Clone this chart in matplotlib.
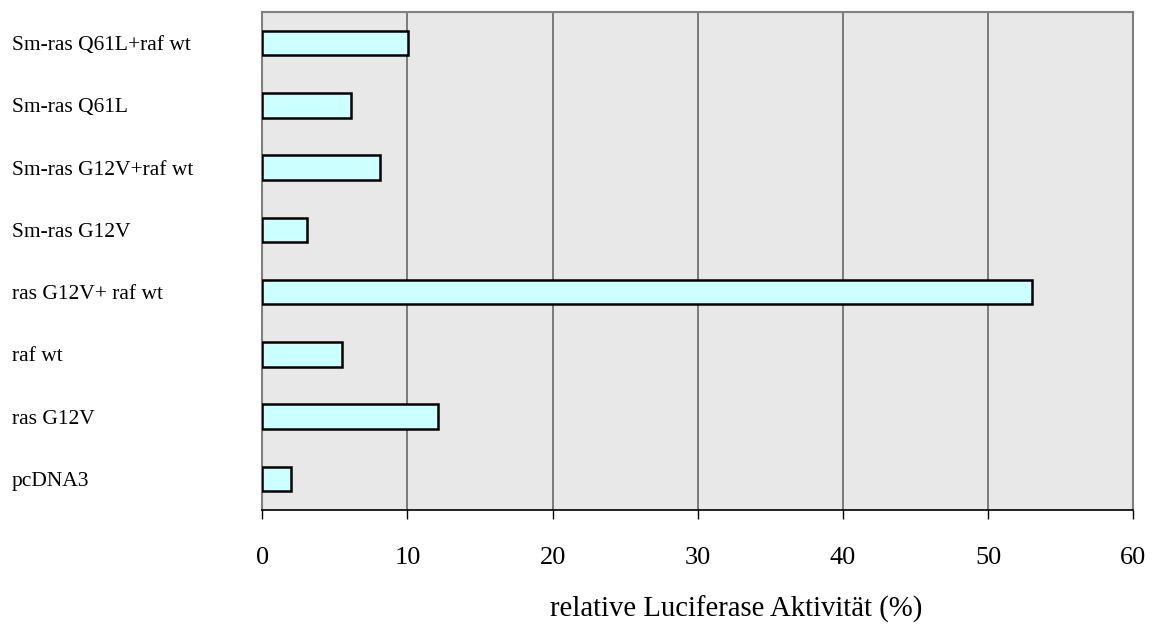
import matplotlib
matplotlib.use("Agg")
import matplotlib.pyplot as plt

categories = ["pcDNA3", "ras G12V", "raf wt", "ras G12V+ raf wt",
              "Sm-ras G12V", "Sm-ras G12V+raf wt", "Sm-ras Q61L", "Sm-ras Q61L+raf wt"]
values = [2.0, 12.1, 5.5, 53.0, 3.1, 8.1, 6.1, 10.05]
xticks = [0, 10, 20, 30, 40, 50, 60]
xlabel = "relative Luciferase Aktivität (%)"

plt.rcParams['font.family'] = ['Liberation Serif', 'DejaVu Serif']

fig = plt.figure(figsize=(11.55, 6.28), dpi=100)
ax_w = 1133.3 - 262.3
ax_h = 510 - 12
ax = fig.add_axes([262.3/1155, 1 - 510/628, ax_w/1155, ax_h/628])
ax.set_facecolor('#e8e8e8')

ypos = list(range(len(categories)))
ax.barh(ypos, values, height=0.39, color='#ccffff', edgecolor='black', linewidth=1.8, zorder=3)

ax.set_xlim(0, 60)
ax.set_ylim(-0.5, len(categories) - 0.5)
ax.set_xticks(xticks)
ax.set_xticklabels([str(t) for t in xticks], fontsize=19)
ax.set_yticks(ypos)
ax.set_yticklabels(categories, fontsize=15.5, ha='left')
ax.tick_params(axis='y', length=0, pad=(262.3 - 12) / 100 * 72)
ax.tick_params(axis='x', length=6.5, width=1.0, color='black', pad=20)

for t in xticks[1:-1]:
    ax.axvline(t, color='#7a7a7a', linewidth=1.4, zorder=1)

for s in ['top', 'right', 'left']:
    ax.spines[s].set_color('#808080')
    ax.spines[s].set_linewidth(1.5)
ax.spines['bottom'].set_color('black')
ax.spines['bottom'].set_linewidth(1.2)

ax.set_xlabel(xlabel, fontsize=20.7, va='center')
ax.xaxis.set_label_coords((736.5 - 262.3) / ax_w, (510 - 609) / ax_h)

fig.savefig("out.png", dpi=100)
